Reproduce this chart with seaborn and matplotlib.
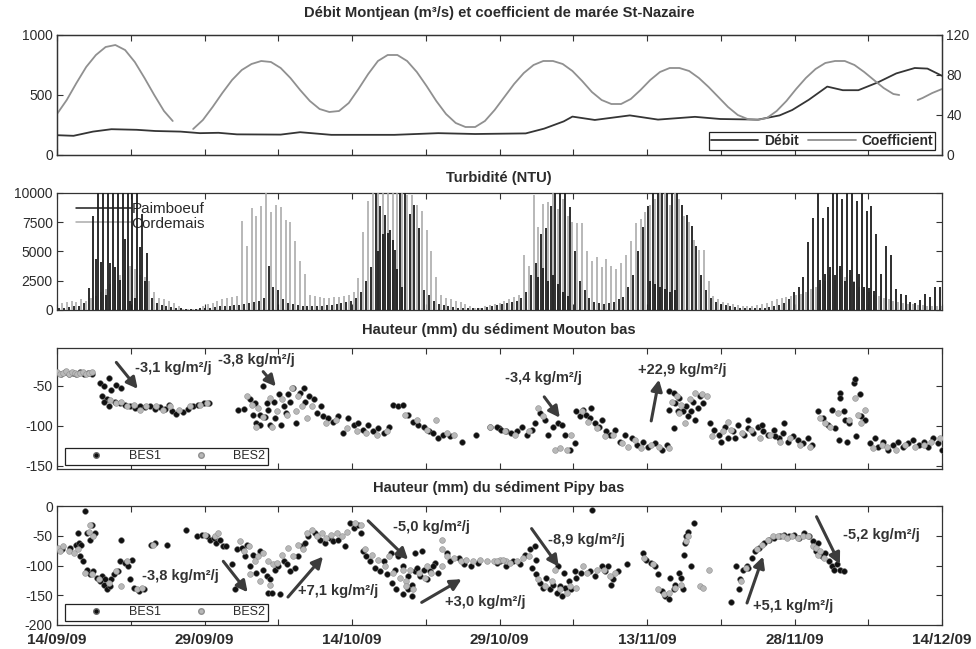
import numpy as np
import pandas as pd
import matplotlib
matplotlib.use("Agg")
import matplotlib.pyplot as plt
import seaborn as sns
from matplotlib.lines import Line2D

# ---------------- data ----------------
x_tick_labels = ["14/09/09", "29/09/09", "14/10/09", "29/10/09", "13/11/09", "28/11/09", "14/12/09"]
span_days = 91

debit_day = [0, 1.7, 3.7, 5.6, 8.2, 10.1, 12.7, 14.7, 16.6, 18.5, 23.0, 25.0, 28.2, 34.7, 39.2, 43.0,
             48.2, 50.1, 52.1, 53.0, 55.3, 58.9, 61.8, 65.6, 68.2, 72.1, 74.3, 75.6, 77.3, 79.2, 80.8,
             82.4, 84.4, 86.3, 88.2, 89.5, 91.0]
debit_val = [165, 160, 195, 215, 210, 200, 195, 182, 185, 172, 170, 190, 168, 168, 182, 175,
             180, 220, 280, 320, 292, 330, 295, 318, 300, 295, 330, 375, 460, 570, 540,
             540, 605, 680, 725, 720, 660]

coef_day = [0, 1, 2, 3, 4, 5, 6, 7, 8, 9, 10, 11, 11.9, 13, 14, 15, 16, 17, 18, 19, 20, 21, 22, 23,
            24, 25, 26, 27, 28, 29, 30, 31, 32, 33, 34, 35, 36, 37, 38, 39, 40, 41, 42, 43, 44, 45,
            46, 47, 48, 49, 50, 51, 52, 53, 54, 55, 56, 57, 58, 59, 60, 61, 62, 63, 64, 65, 66, 67,
            68, 69, 70, 71, 72, 73, 74, 75, 76, 77, 78, 79, 80, 81, 82, 83, 84, 85, 86, 86.6, 87.5,
            88.5, 89, 90, 91]
coef_val = [41, 55, 72, 88, 100, 108, 110, 105, 93, 77, 60, 44, 34, np.nan, 26, 35, 48, 62, 75, 85,
            91, 94, 93, 87, 77, 65, 54, 46, 43, 44, 52, 66, 81, 94, 100, 100, 94, 83, 69, 54, 41,
            32, 28, 28, 34, 45, 58, 71, 82, 90, 94, 94, 91, 84, 74, 63, 55, 51, 51, 56, 65, 75, 83,
            87, 87, 84, 77, 68, 58, 48, 40, 36, 35, 37, 44, 54, 66, 77, 86, 92, 94, 94, 90, 83, 75,
            67, 61, 60, np.nan, 55, 57, 62, 66]

# turbidity peaks, one value per half day (tide), first at day 0.25
paimboeuf = [150, 200, 250, 300, 350, 600, 1900, 8000, 10000, 10000,
             10000, 10000, 10000, 10000, 10000, 10000, 10000, 8200, 4900, 1000,
             600, 400, 300, 250, 200, 150, 100, 100, 100, 150,
             150, 200, 250, 300, 300, 350, 400, 450, 500, 600,
             700, 800, 1000, 3800, 2000, 1700, 900, 600, 500, 400,
             350, 300, 300, 300, 350, 400, 450, 500, 600, 700,
             800, 1000, 1500, 2500, 3700, 10000, 8900, 8100, 6800, 5100,
             10000, 10000, 8200, 9000, 7000, 1700, 1300, 800, 500, 400,
             300, 250, 200, 150, 150, 150, 150, 200, 250, 300,
             400, 500, 600, 700, 800, 1000, 1500, 3000, 4000, 6500,
             7000, 8900, 10000, 10000, 10000, 8800, 5000, 2500, 1700, 1000,
             700, 600, 500, 600, 700, 900, 1100, 2000, 3000, 5000,
             7100, 8900, 10000, 10000, 10000, 10000, 10000, 10000, 9000, 8100,
             7200, 5500, 3000, 1700, 1000, 700, 500, 400, 300, 250,
             200, 150, 150, 150, 150, 200, 250, 300, 400, 600,
             900, 1500, 2000, 2800, 5800, 7900, 10000, 7900, 8800, 10000,
             10000, 9500, 10000, 10000, 9300, 10000, 8500, 8900, 6500, 3100,
             5500, 4700, 1800, 1400, 1300, 700, 600, 850, 1400, 1100,
             2000, 2000]
cordemais = [600, 700, 800, 700, 900, 800, 1000, 1200, 1500, 1800,
             2200, 2600, 3000, 3400, 3800, 3500, 3000, 2800, 2500, 1500,
             1000, 900, 800, 600, 300, 100, 50, 50, 100, 300,
             500, 600, 800, 900, 1000, 1100, 1200, 7600, 5500, 8700,
             8000, 8900, 10000, 8400, 9000, 8800, 7700, 7500, 5900, 4200,
             3100, 1300, 1200, 1100, 1000, 1000, 1100, 1100, 1200, 1300,
             1500, 2700, 6700, 9300, 10000, 10000, 10000, 10000, 10000, 10000,
             10000, 9800, 9800, 9000, 8500, 6800, 5000, 2800, 1300, 1000,
             900, 800, 700, 500, 300, 200, 200, 300, 400, 500,
             600, 800, 900, 1100, 1300, 4700, 3800, 9800, 7100, 9100,
             9200, 10000, 8600, 9500, 8000, 7500, 7400, 7400, 5000, 4200,
             4500, 3700, 4400, 3800, 3500, 4000, 4700, 5900, 7400, 7800,
             8400, 9000, 9500, 10000, 10000, 9000, 10000, 9500, 8000, 7500,
             6000, 5100, 5100, 2500, 1200, 900, 700, 600, 500, 400,
             300, 300, 300, 400, 500, 600, 800, 900, 1000, 1100,
             1200, 1300, 1400, 1500, 1800, 2000, 2200, 2500, 3000, 2600,
             3500, 2800, 3000, 2500, 2000, 1800, 1500, 1300, 1200, 1000,
             900, 800, 700, 600, 500, 500, 400, 400, 300, 300,
             300, 300]
# secondary (ebb) peaks of Paimboeuf
paim2_day = [4.0, 4.5, 5.0, 5.5, 6.0, 6.5, 7.0, 7.5, 8.0, 8.5, 9.0,
             33.0, 33.5, 34.0, 34.5, 35.0, 35.5,
             49.5, 50.0, 50.5, 51.0, 51.5, 52.0, 52.5,
             61.0, 61.5, 62.0, 62.5, 63.0, 63.5,
             78.5, 79.0, 79.5, 80.0, 80.5, 81.0, 81.5, 82.0, 82.5, 83.0, 83.5, 84.0]
paim2_val = [4400, 4100, 1300, 4000, 3700, 2600, 6100, 800, 1000, 5400, 2500,
             5000, 6500, 6600, 6000, 3500, 2000,
             2800, 3600, 2500, 3000, 2200, 1500, 1200,
             2500, 2200, 2000, 1800, 1500, 1700,
             2600, 3100, 3700, 3000, 3800, 2500, 3400, 2400, 3100, 2000, 1900, 1600]

# sediment height (day, mm) -- Mouton bas
mouton_bes1 = [
    (0.0, -34), (0.4, -35), (0.8, -33), (1.2, -36), (1.6, -34), (2.0, -35), (2.4, -33), (2.8, -36),
    (3.2, -34), (3.6, -35),
    (4.4, -47), (4.8, -51), (5.3, -40), (5.6, -55), (6.1, -49), (6.6, -53), (4.6, -63), (5.1, -67),
    (4.8, -70), (5.3, -76), (6.0, -70), (6.5, -72), (7.0, -74), (7.5, -76), (8.0, -78), (8.5, -76),
    (9.0, -77), (9.6, -75), (10.1, -79), (10.6, -77), (11.1, -79), (11.5, -74), (11.8, -82),
    (12.2, -85), (13.0, -83), (13.5, -79), (14.0, -76), (14.5, -74), (15.1, -72), (15.6, -72),
    (18.6, -80), (19.2, -79), (19.8, -67), (20.4, -72), (20.5, -97), (20.9, -99), (21.2, -51),
    (21.4, -89), (21.7, -80), (21.9, -99), (22.3, -70), (22.4, -90), (22.8, -61), (23.0, -99),
    (23.3, -76), (23.5, -84), (23.8, -61), (24.0, -70), (24.3, -53), (24.6, -97), (25.0, -59),
    (25.4, -53), (25.5, -70), (25.9, -63), (26.4, -67), (26.7, -84), (27.1, -76), (20.9, -87),
    (21.6, -72), (20.2, -87),
    (27.4, -88), (27.9, -90), (28.4, -95), (28.9, -88), (29.4, -109), (29.9, -90), (30.5, -99),
    (31.0, -97), (31.5, -105), (32.0, -99), (32.5, -107), (33.0, -103), (33.6, -109), (34.1, -101),
    (34.6, -74), (35.1, -76), (35.6, -74), (36.1, -86), (36.6, -95), (37.1, -99), (37.7, -101),
    (38.2, -107), (38.7, -109), (39.2, -115), (39.7, -111), (40.4, -113), (41.6, -120), (43.1, -111),
    (44.5, -101), (45.4, -103),
    (45.2, -102), (45.7, -105), (46.2, -107), (46.7, -109), (47.3, -106), (47.8, -101), (48.3, -111),
    (48.8, -105), (49.1, -97), (49.7, -84), (50.2, -93), (50.5, -111), (51.0, -101), (51.5, -97),
    (51.9, -99), (52.2, -111), (52.7, -130), (53.3, -122), (53.4, -82), (53.8, -88), (54.1, -80),
    (54.4, -86), (54.8, -90), (54.9, -78), (55.3, -97), (55.7, -101), (56.0, -93), (56.5, -107),
    (56.9, -111), (57.4, -105), (57.9, -120), (58.4, -111), (59.1, -115), (59.6, -124), (60.3, -120),
    (60.8, -126), (61.5, -122), (62.2, -130), (62.7, -124),
    (62.9, -57), (63.4, -59), (62.9, -80), (63.5, -72), (64.0, -65), (64.4, -82), (64.7, -76),
    (64.9, -88), (65.4, -70), (65.6, -93), (66.1, -63), (66.4, -72), (63.4, -103), (63.9, -82),
    (65.2, -82), (65.9, -78),
    (67.1, -97), (67.6, -105), (68.1, -111), (68.7, -101), (69.0, -115), (69.5, -107), (70.0, -99),
    (70.6, -111), (71.1, -103), (71.6, -109), (72.1, -101), (72.6, -107), (73.1, -111), (73.7, -105),
    (74.2, -115), (74.7, -109), (75.2, -120), (75.7, -113), (76.2, -118), (76.7, -122), (77.2, -115),
    (77.6, -124), (68.3, -120), (69.7, -115), (71.1, -93), (72.5, -99), (73.8, -113), (74.8, -97),
    (78.3, -82), (78.8, -90), (79.3, -99), (79.7, -80), (80.0, -103), (80.5, -59), (80.5, -65),
    (80.9, -82), (81.0, -93), (81.2, -120), (81.4, -97), (81.9, -47), (82.1, -42), (82.2, -113),
    (82.6, -61), (82.7, -88), (83.1, -93), (80.4, -118),
    (83.6, -122), (84.1, -115), (84.4, -126), (84.9, -120), (85.4, -130), (86.0, -124), (86.5, -120),
    (87.0, -126), (87.5, -122), (88.0, -118), (88.6, -124), (89.1, -120), (89.6, -126), (90.1, -115),
    (90.6, -122), (91.0, -130)]
mouton_bes2 = [
    (0.0, -33), (0.3, -35), (0.6, -34), (0.9, -32), (1.2, -35), (1.5, -33), (1.8, -34), (2.1, -36),
    (2.4, -34), (2.7, -33), (3.0, -35), (3.3, -34), (3.6, -33),
    (5.4, -68), (6.1, -72), (6.6, -70), (7.2, -76), (7.9, -74), (8.5, -80), (9.2, -76), (10.2, -76),
    (10.9, -80), (11.6, -76), (12.5, -80), (13.7, -76), (14.7, -74), (15.4, -72),
    (19.5, -63), (20.0, -74), (20.7, -78), (21.2, -89), (21.9, -65), (22.6, -82), (23.1, -67),
    (23.6, -87), (24.2, -53), (24.6, -82), (25.2, -76), (25.7, -90), (26.2, -76), (24.8, -63),
    (22.1, -101), (20.5, -101),
    (27.7, -97), (28.7, -93), (29.8, -103), (30.8, -107), (31.8, -109), (32.9, -111), (33.9, -107),
    (35.8, -86), (37.0, -93), (38.0, -105), (39.0, -93), (40.1, -109), (40.8, -111), (44.5, -101),
    (46.1, -107), (47.1, -111), (48.5, -107), (49.5, -78), (50.0, -88), (51.2, -130), (51.7, -128),
    (52.4, -130), (52.9, -111), (54.0, -82), (54.6, -95), (55.5, -103), (56.3, -113), (57.2, -111),
    (58.1, -122), (58.7, -126), (59.4, -118), (60.1, -128), (61.1, -124), (61.9, -126), (62.9, -128),
    (63.2, -70), (63.7, -63), (64.2, -74), (64.6, -97), (65.1, -67), (65.6, -59), (66.3, -61),
    (66.8, -63), (64.0, -84),
    (67.4, -113), (68.5, -107), (69.3, -105), (70.4, -109), (71.4, -105), (72.3, -115), (73.3, -111),
    (74.3, -120), (75.4, -115), (76.4, -124), (77.4, -126), (69.0, -95),
    (78.5, -90), (79.0, -97), (79.5, -101), (80.3, -84), (81.4, -93), (82.1, -65), (82.4, -86),
    (83.1, -80), (82.7, -97),
    (83.9, -128), (84.8, -124), (85.3, -126), (86.3, -130), (87.2, -124), (88.2, -126), (89.2, -124),
    (89.9, -120), (90.8, -115)]

# sediment height (day, mm) -- Pipy bas
pipy_bes1 = [
    (0.5, -73), (1.3, -71), (2.0, -65), (2.3, -62), (2.4, -84), (2.9, -9), (2.2, -46), (3.1, -46),
    (3.4, -57), (3.9, -46), (3.6, -32), (2.5, -65),
    (2.7, -93), (3.1, -107), (3.4, -115), (4.1, -121), (4.4, -126), (4.8, -132), (5.1, -140),
    (5.4, -134), (3.7, -109), (4.6, -118), (4.9, -123), (5.6, -123),
    (5.9, -115), (6.3, -109), (6.5, -93), (6.6, -57), (7.0, -96), (7.3, -101), (7.5, -123),
    (7.9, -137), (8.4, -143), (8.9, -140), (7.7, -90),
    (9.7, -65), (10.1, -62), (11.3, -65),
    (13.3, -41), (14.4, -51), (14.9, -48), (15.4, -51), (15.7, -57), (16.1, -54), (16.4, -62),
    (16.8, -57), (17.1, -68),
    (17.4, -68), (18.0, -98), (18.3, -140), (18.5, -73), (19.0, -71), (19.3, -84), (19.5, -65),
    (19.8, -101), (20.2, -82), (20.5, -112), (20.9, -76), (21.2, -107), (21.6, -118), (21.7, -146),
    (22.1, -146), (22.4, -107), (22.9, -148), (23.3, -93), (23.6, -98), (24.0, -109), (24.5, -104),
    (24.8, -84), (25.2, -68), (25.5, -62), (21.9, -123), (22.7, -101),
    (25.8, -51), (26.5, -46), (27.0, -57), (27.6, -62), (28.1, -54), (28.4, -59), (28.9, -57),
    (29.6, -68),
    (30.1, -29), (30.5, -37), (31.0, -32), (31.3, -46),
    (31.5, -76), (31.8, -84), (32.2, -93), (32.7, -104), (33.2, -109), (33.6, -93), (33.9, -115),
    (34.4, -129), (34.8, -107), (35.1, -84), (35.6, -101), (36.1, -118), (36.5, -132), (36.8, -109),
    (34.3, -79), (34.9, -140),
    (37.0, -104), (37.3, -118), (37.7, -107), (38.0, -123), (38.4, -109), (38.9, -96), (39.2, -112),
    (36.1, -140), (36.5, -151), (35.6, -148), (36.8, -79), (37.5, -76), (38.7, -101),
    (40.4, -93), (41.3, -87), (41.9, -98), (42.6, -101), (43.3, -96), (45.2, -96), (40.1, -79),
    (45.6, -93), (46.2, -101), (46.9, -93), (47.6, -98), (48.1, -82), (48.6, -73), (48.8, -104),
    (49.1, -68),
    (49.3, -115), (49.7, -129), (50.0, -137), (50.3, -121), (50.7, -140), (51.0, -132), (51.4, -146),
    (51.7, -134), (51.9, -151), (52.2, -137), (52.6, -126), (52.9, -140), (51.5, -101), (52.1, -112),
    (53.3, -109), (53.4, -121), (53.9, -112), (49.3, -90),
    (54.8, -109), (55.3, -118), (56.0, -101), (56.3, -109), (56.7, -101), (57.0, -132), (57.2, -123),
    (57.7, -109), (58.6, -98), (55.0, -7),
    (60.3, -79), (60.6, -90), (61.1, -96), (61.5, -101), (61.8, -115), (62.2, -143), (62.5, -151),
    (62.9, -157), (63.0, -121), (63.4, -140), (63.5, -132), (64.0, -112), (64.2, -121), (64.4, -140),
    (64.5, -82), (64.6, -62), (64.7, -51), (64.9, -43), (65.5, -29), (65.2, -101),
    (69.3, -162), (69.8, -101), (70.1, -140), (70.2, -123), (70.5, -107), (71.0, -101), (71.1, -104),
    (71.5, -87), (71.8, -76), (72.2, -71), (72.7, -62), (73.2, -57), (73.7, -54), (74.3, -51),
    (74.8, -48), (75.3, -51), (75.8, -48), (76.3, -54), (76.8, -46), (77.3, -51), (77.7, -59),
    (78.0, -76), (78.3, -62), (78.7, -84), (79.0, -79), (79.4, -93), (79.7, -101), (79.9, -107),
    (80.2, -98), (80.5, -107), (80.9, -109)]
pipy_bes2 = [
    (0.1, -71), (0.3, -76), (0.65, -68), (1.2, -76), (1.7, -79), (2.2, -73),
    (3.4, -32), (3.3, -43), (3.7, -51),
    (2.9, -112), (3.6, -115), (4.3, -123), (5.3, -129),
    (6.1, -109), (6.6, -134), (7.2, -93), (8.2, -140), (8.7, -137),
    (9.9, -65),
    (15.2, -48), (16.2, -51), (16.6, -46),
    (18.8, -59), (19.2, -76), (19.7, -68), (20.4, -93), (20.7, -84), (21.2, -79), (21.7, -93),
    (22.2, -98), (22.6, -96), (23.1, -82), (23.8, -71), (24.3, -84), (24.8, -65), (25.3, -73),
    (19.8, -115), (20.9, -126), (21.9, -132),
    (25.7, -46), (26.2, -40), (26.7, -51), (27.2, -46), (27.7, -54), (28.2, -48), (28.8, -46),
    (29.3, -51), (29.8, -43),
    (30.6, -29), (31.3, -32),
    (31.7, -73), (32.4, -82), (33.0, -90), (33.7, -101), (34.6, -112), (35.3, -121), (35.9, -126),
    (36.6, -140), (34.1, -84), (35.6, -107), (36.3, -107),
    (37.2, -112), (37.8, -121), (38.5, -112), (39.6, -101), (39.6, -57), (39.6, -73), (35.9, -134),
    (38.0, -101),
    (40.1, -84), (40.8, -87), (41.5, -93), (42.1, -90), (42.8, -93), (43.5, -90), (44.2, -93),
    (44.9, -93), (45.6, -90), (46.2, -93),
    (45.2, -93), (45.9, -90), (46.6, -96), (47.3, -93), (47.9, -87), (48.5, -84),
    (49.5, -123), (50.2, -134), (50.9, -126), (51.7, -140), (52.7, -134), (53.4, -137), (54.1, -101),
    (51.2, -107), (52.4, -146),
    (54.5, -112), (55.5, -107), (56.2, -107), (56.9, -118), (57.4, -112),
    (60.4, -87), (61.3, -98), (61.8, -140), (62.4, -148), (62.9, -146), (63.5, -137), (64.2, -132),
    (64.7, -59), (64.9, -51), (66.1, -134), (66.4, -137), (67.0, -107),
    (70.3, -126), (70.8, -104),
    (72.0, -73), (72.5, -65), (73.1, -57), (73.6, -51), (74.1, -51), (74.6, -51), (75.1, -54),
    (75.6, -51), (76.2, -54), (76.7, -51), (77.2, -51), (77.7, -68), (78.0, -71),
    (78.2, -82), (78.5, -76), (78.9, -87)]

# annotations: text, text position (day, mm), arrow start, arrow end
mouton_notes = [("-3,1 kg/m²/j", (8.0, -27.5), (6.1, -21), (8.3, -54)),
                ("-3,8 kg/m²/j", (16.55, -17.5), (21.2, -32.5), (22.5, -51)),
                ("-3,4 kg/m²/j", (46.1, -40), (50.1, -64), (51.7, -90)),
                ("+22,9 kg/m²/j", (59.7, -30), (61.1, -94), (61.9, -42.5))]
pipy_notes = [("-3,8 kg/m²/j", (8.7, -118), (17.1, -93), (19.6, -145)),
              ("+7,1 kg/m²/j", (24.8, -143), (23.75, -153), (27.35, -85)),
              ("-5,0 kg/m²/j", (34.55, -35), (32.0, -25), (36.1, -90)),
              ("+3,0 kg/m²/j", (39.9, -162), (37.5, -162), (41.6, -123)),
              ("-8,9 kg/m²/j", (50.5, -57), (48.8, -38), (51.6, -102)),
              ("+5,1 kg/m²/j", (71.6, -168), (70.95, -163), (72.6, -85)),
              ("-5,2 kg/m²/j", (80.8, -48), (78.1, -18), (80.5, -98))]

# ---------------- style ----------------
sns.set_theme(style="ticks")
plt.rcParams["font.family"] = ["Liberation Sans", "DejaVu Sans"]
plt.rcParams["axes.edgecolor"] = "#333333"
plt.rcParams["axes.linewidth"] = 0.9
plt.rcParams["axes.unicode_minus"] = False

DARK = "#1c1c1c"
GREY = "#ababab"
TXT = "#2b2b2b"

fig = plt.figure(figsize=(9.76, 6.49), dpi=100)
L, W = 57 / 976, 885 / 976


def axpos(top, bottom):
    return [L, 1 - bottom / 649, W, (bottom - top) / 649]


ax1 = fig.add_axes(axpos(35, 155))
ax2 = fig.add_axes(axpos(193, 310))
ax3 = fig.add_axes(axpos(348, 469))
ax4 = fig.add_axes(axpos(506, 625))

xticks = np.linspace(0, span_days, 13)
for ax in (ax1, ax2, ax3, ax4):
    ax.set_xlim(0, span_days)
    ax.set_xticks(xticks)
    ax.tick_params(direction="in", top=True, right=True, length=4, width=0.8,
                   color="#333333", labelsize=10, labelcolor=TXT, pad=3)
    ax.set_xlabel("")
    ax.set_ylabel("")
    for s in ax.spines.values():
        s.set_visible(True)
        s.set_color("#333333")
for ax in (ax1, ax2, ax3):
    ax.set_xticklabels([])

# ---- panel 1 ----
deb = pd.DataFrame({"day": debit_day, "val": debit_val})
sns.lineplot(data=deb, x="day", y="val", ax=ax1, color="#353535", lw=1.3)
ax1.set_ylim(0, 1000)
ax1.set_yticks([0, 500, 1000])
ax1.tick_params(right=False)
ax1.set_xlabel("")
ax1.set_ylabel("")
ax1b = ax1.twinx()
cf = pd.DataFrame({"day": coef_day, "val": coef_val})
cf["seg"] = cf["val"].isna().cumsum()
cf = cf.dropna()
sns.lineplot(data=cf, x="day", y="val", units="seg", estimator=None, ax=ax1b,
             color="#909090", lw=1.3)
ax1b.set_ylim(0, 120)
ax1b.set_yticks([0, 40, 80, 120])
ax1b.set_ylabel("")
ax1b.tick_params(direction="in", right=True, left=False, length=4, width=0.8,
                 color="#333333", labelsize=10, labelcolor=TXT, pad=3)
ax1b.set_xlim(0, span_days)
leg1 = ax1b.legend(handles=[Line2D([], [], color="#353535", lw=1.3, label="Débit"),
                            Line2D([], [], color="#909090", lw=1.3, label="Coefficient")],
                   loc="lower right", bbox_to_anchor=(0.992, 0.04), ncol=2, frameon=True,
                   fancybox=False, edgecolor="#222222", framealpha=1, handlelength=3.4,
                   handletextpad=0.4, columnspacing=0.7, borderpad=0.15, borderaxespad=0,
                   prop={"weight": "bold", "size": 10})
leg1.get_frame().set_linewidth(0.9)
for t in leg1.get_texts():
    t.set_color(TXT)

# ---- panel 2 ----
tide_t = 0.25 + 0.5 * np.arange(len(paimboeuf))
ax2.vlines(tide_t + 0.25, 0, cordemais, color=GREY, lw=1.2, zorder=3)
ax2.vlines(tide_t, 0, paimboeuf, color=DARK, lw=1.3, zorder=4)
ax2.vlines(paim2_day, 0, paim2_val, color=DARK, lw=1.3, zorder=4)
ax2.set_ylim(0, 10000)
ax2.set_yticks([0, 2500, 5000, 7500, 10000])
leg2 = ax2.legend(handles=[Line2D([], [], color=DARK, lw=1.1, label="Paimboeuf"),
                           Line2D([], [], color=GREY, lw=1.1, label="Cordemais")],
                  loc="upper left", bbox_to_anchor=(0.014, 0.975), frameon=False,
                  handlelength=3.6, handletextpad=0.05, labelspacing=0.05, borderaxespad=0,
                  prop={"size": 11})
leg2.set_zorder(1)
for t in leg2.get_texts():
    t.set_color(TXT)


# ---- panels 3 & 4 ----
def scatter_panel(ax, b1, b2, notes):
    d1 = pd.DataFrame(b1, columns=["day", "h"])
    d2 = pd.DataFrame(b2, columns=["day", "h"])
    sns.scatterplot(data=d1, x="day", y="h", ax=ax, color="#101010", s=17,
                    edgecolor="#6a6a6a", linewidth=0.4, legend=False, zorder=3)
    sns.scatterplot(data=d2, x="day", y="h", ax=ax, color="#b8b8b8", s=17,
                    edgecolor="#8f8f8f", linewidth=0.4, legend=False, zorder=4)
    ax.set_xlabel("")
    ax.set_ylabel("")
    for label, tpos, a0, a1 in notes:
        ax.annotate("", xy=a1, xytext=a0,
                    arrowprops=dict(arrowstyle="-|>,head_length=0.55,head_width=0.28",
                                    lw=2.2, color="#3c3c3c", shrinkA=0, shrinkB=0),
                    zorder=6)
        ax.text(tpos[0], tpos[1], label, fontsize=10.5, fontweight="bold", color="#333333",
                ha="left", va="center", zorder=6)
    leg = ax.legend(handles=[Line2D([], [], ls="", marker="o", ms=4, color="#101010",
                                    markeredgecolor="#6a6a6a", label="BES1"),
                             Line2D([], [], ls="", marker="o", ms=4, color="#b8b8b8",
                                    markeredgecolor="#8f8f8f", label="BES2")],
                    loc="lower left", bbox_to_anchor=(0.009, 0.035), ncol=2, frameon=True,
                    fancybox=False, edgecolor="#222222", framealpha=1, handlelength=4.6,
                    handletextpad=0.3, columnspacing=0.9, borderpad=0.2, borderaxespad=0,
                    prop={"size": 9})
    leg.get_frame().set_linewidth(0.9)
    for t in leg.get_texts():
        t.set_color(TXT)


scatter_panel(ax3, mouton_bes1, mouton_bes2, mouton_notes)
ax3.set_ylim(-154, -3)
ax3.set_yticks([-150, -100, -50])
scatter_panel(ax4, pipy_bes1, pipy_bes2, pipy_notes)
ax4.set_ylim(-200, 0)
ax4.set_yticks([-200, -150, -100, -50, 0])
ax4.set_xticklabels([x_tick_labels[i // 2] if i % 2 == 0 else "" for i in range(13)],
                    fontweight="bold", fontsize=11)
ax4.tick_params(axis="x", pad=6)

for ax in (ax1, ax2, ax3, ax4):
    ax.set_xlim(0, span_days)

# titles
titles = ["Débit Montjean (m³/s) et coefficient de marée St-Nazaire", "Turbidité (NTU)",
          "Hauteur (mm) du sédiment Mouton bas", "Hauteur (mm) du sédiment Pipy bas"]
title_y = [13, 178, 330, 488]
for t, y in zip(titles, title_y):
    fig.text(499 / 976, 1 - y / 649, t, ha="center", va="center", fontsize=10.6,
             fontweight="bold", color=TXT)

fig.savefig("out.png", dpi=100, facecolor="white")
